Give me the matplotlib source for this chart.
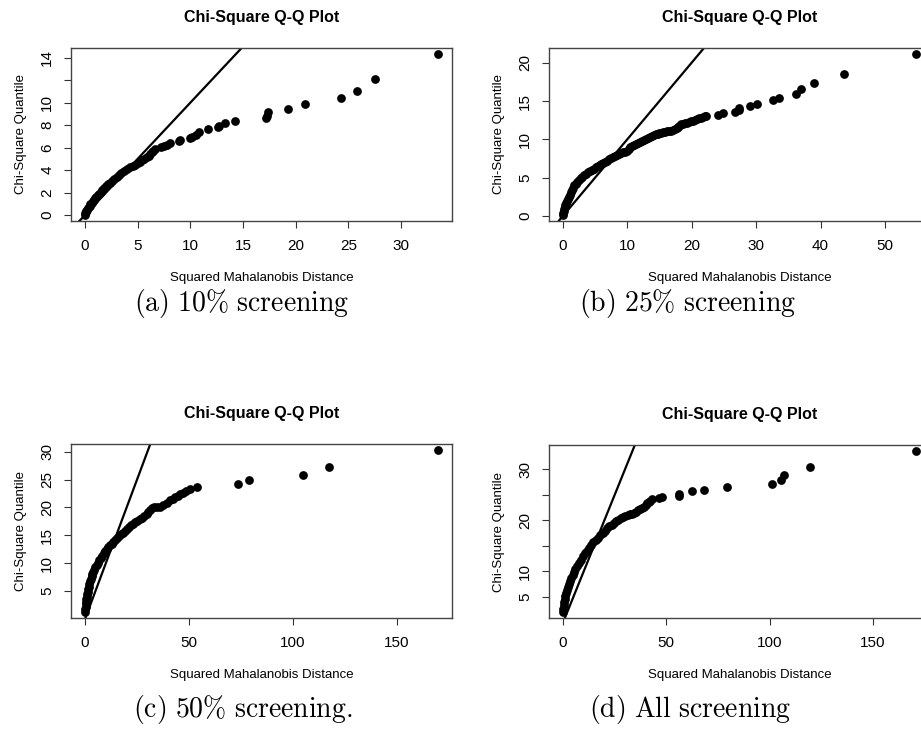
import matplotlib
matplotlib.use('Agg')
import matplotlib.pyplot as plt

plt.rcParams['font.family'] = ['Liberation Sans', 'DejaVu Sans']
plt.rcParams['mathtext.fontset'] = 'cm'

# (a) 10% screening: squared Mahalanobis distance vs chi-square quantile
a_dist = [0.02, 0.05, 0.09, 0.14, 0.2, 0.27, 0.35, 0.44, 0.53, 0.63, 0.74, 0.86,
          0.98, 1.1, 1.23, 1.37, 1.52, 1.67, 1.83, 2.0, 2.18, 2.37, 2.57, 2.78,
          3.0, 3.23, 3.47, 3.72, 3.98, 4.25, 4.52, 4.78, 5.02, 5.25, 5.45, 5.65,
          5.85, 6.05, 6.2, 6.35, 6.5, 6.65, 7.25, 7.5, 7.8, 8.1, 8.9, 9.0, 10.0,
          10.2, 10.5, 10.8, 11.7, 12.6, 12.7, 13.3, 14.2, 17.2, 17.25, 17.35,
          19.3, 20.9, 24.3, 25.8, 27.5, 33.5]
a_quant = [0.05, 0.15, 0.25, 0.35, 0.47, 0.6, 0.72, 0.85, 0.98, 1.1, 1.23, 1.36,
           1.5, 1.63, 1.77, 1.92, 2.08, 2.24, 2.4, 2.56, 2.73, 2.9, 3.07, 3.25,
           3.42, 3.6, 3.77, 3.94, 4.1, 4.25, 4.38, 4.5, 4.62, 4.75, 4.88, 5.0,
           5.14, 5.3, 5.45, 5.6, 5.74, 5.92, 6.02, 6.12, 6.27, 6.45, 6.6, 6.72,
           6.85, 6.98, 7.15, 7.4, 7.62, 7.85, 7.95, 8.17, 8.38, 8.62, 8.86, 9.15,
           9.48, 9.88, 10.4, 11.05, 12.08, 14.3]

# (b) 25% screening
b_dist = [0.05, 0.1, 0.15, 0.22, 0.3, 0.4, 0.5, 0.62, 0.75, 0.9, 1.05, 1.22,
          1.4, 1.6, 1.8, 2.0, 2.25, 2.5, 2.75, 3.0, 3.3, 3.6, 3.9, 4.2, 4.5,
          4.8, 5.1, 5.4, 5.7, 6.0, 6.3, 6.6, 6.9, 7.2, 7.5, 7.8, 8.1, 8.4, 8.7,
          9.0, 9.3, 9.6, 9.9, 10.2, 10.5, 10.8, 11.1, 11.4, 11.7, 12.0, 12.3,
          12.6, 12.9, 13.2, 13.5, 13.8, 14.1, 14.4, 14.7, 15.0, 15.3, 15.6,
          15.9, 16.2, 16.5, 16.8, 17.1, 17.4, 17.7, 17.9, 18.1, 18.4, 18.7,
          19.0, 19.3, 19.6, 19.9, 20.2, 20.5, 20.8, 21.1, 21.4, 21.7, 22.0,
          22.3, 24.1, 24.9, 26.8, 27.3, 27.4, 29.0, 30.1, 32.6, 33.6, 36.2,
          37.0, 39.05, 43.65, 54.8]
b_quant = [0.2, 0.45, 0.7, 0.95, 1.2, 1.45, 1.7, 1.95, 2.2, 2.5, 2.8, 3.1, 3.4,
           3.7, 4.0, 4.25, 4.5, 4.75, 4.95, 5.1, 5.3, 5.5, 5.7, 5.88, 6.05, 6.2,
           6.35, 6.5, 6.65, 6.8, 6.95, 7.1, 7.25, 7.4, 7.55, 7.7, 7.85, 7.98,
           8.1, 8.2, 8.3, 8.4, 8.52, 8.7, 8.95, 9.15, 9.3, 9.4, 9.5, 9.6, 9.75,
           9.9, 10.05, 10.2, 10.35, 10.45, 10.55, 10.65, 10.72, 10.8, 10.86,
           10.92, 10.98, 11.04, 11.1, 11.16, 11.24, 11.35, 11.5, 11.65, 11.8,
           11.95, 12.05, 12.12, 12.2, 12.28, 12.36, 12.45, 12.55, 12.65, 12.75,
           12.85, 12.93, 13.0, 13.06, 13.2, 13.45, 13.6, 13.8, 14.1, 14.4,
           14.66, 15.1, 15.44, 15.92, 16.53, 17.31, 18.52, 21.08]

# (c) 50% screening
c_dist = [0.0, 0.1, 0.2, 0.3, 0.45, 0.6, 0.8, 1.0, 1.2, 1.45, 1.7, 2.0, 2.3,
          2.7, 3.1, 3.5, 4.0, 4.5, 5.0, 5.6, 6.2, 6.8, 7.5, 8.2, 8.9, 9.6, 10.4,
          11.2, 12.0, 12.8, 13.6, 14.5, 15.4, 16.3, 17.2, 18.2, 19.2, 20.2,
          21.2, 22.2, 23.2, 24.2, 25.2, 26.2, 27.3, 28.5, 29.7, 30.5, 31.3,
          32.1, 33.3, 34.8, 36.1, 37.7, 39.3, 40.9, 42.1, 43.3, 44.5, 45.7,
          47.1, 48.6, 50.5, 53.9, 73.8, 79.1, 104.9, 117.4, 169.9]
c_quant = [1.3, 1.75, 2.2, 2.65, 3.1, 3.55, 4.0, 4.45, 4.9, 5.35, 5.8, 6.25,
           6.7, 7.15, 7.6, 8.0, 8.45, 8.85, 9.25, 9.7, 10.1, 10.5, 10.95, 11.35,
           11.75, 12.1, 12.5, 12.85, 13.2, 13.5, 13.85, 14.2, 14.5, 14.85, 15.15,
           15.5, 15.85, 16.2, 16.5, 16.8, 17.1, 17.4, 17.65, 17.9, 18.15, 18.45,
           18.8, 19.2, 19.55, 19.85, 20.0, 20.1, 20.17, 20.4, 20.8, 21.3, 21.55,
           21.8, 22.1, 22.4, 22.65, 22.9, 23.25, 23.6, 24.2, 24.9, 25.86, 27.3,
           30.24]

# (d) all screening
d_dist = [0.0, 0.15, 0.3, 0.5, 0.75, 1.05, 1.4, 1.8, 2.25, 2.75, 3.3, 3.9,
          4.55, 5.25, 6.0, 6.8, 7.65, 8.55, 9.5, 10.5, 11.5, 12.5, 13.6, 14.7,
          15.8, 16.9, 18.0, 19.1, 20.2, 21.3, 22.4, 23.5, 24.6, 25.7, 26.8,
          27.9, 29.0, 30.1, 31.2, 32.3, 33.4, 34.5, 35.5, 36.4, 37.3, 38.2,
          39.1, 40.0, 40.8, 41.6, 42.3, 43.0, 46.6, 48.0, 56.1, 56.1, 62.2,
          68.1, 79.4, 101.2, 105.7, 107.1, 119.7, 170.9]
d_quant = [2.1, 2.7, 3.3, 3.9, 4.5, 5.1, 5.7, 6.3, 6.9, 7.5, 8.1, 8.7, 9.3,
           9.9, 10.5, 11.1, 11.7, 12.3, 12.9, 13.5, 14.05, 14.6, 15.15, 15.7,
           16.2, 16.6, 17.05, 17.5, 17.95, 18.4, 18.8, 19.15, 19.5, 19.85, 20.1,
           20.35, 20.6, 20.85, 21.0, 21.15, 21.3, 21.45, 21.65, 21.95, 22.25,
           22.5, 22.7, 23.0, 23.3, 23.6, 23.85, 24.1, 24.4, 24.6, 24.85, 25.2,
           25.65, 26.0, 26.5, 27.2, 27.95, 28.9, 30.45, 33.5]

a_xticks = [0, 5, 10, 15, 20, 25, 30]
a_yticks = [0, 2, 4, 6, 8, 10, 12, 14]
a_ylabels = ['0', '2', '4', '6', '8', '10', '', '14']
b_xticks = [0, 10, 20, 30, 40, 50]
b_yticks = [0, 5, 10, 15, 20]
b_ylabels = ['0', '5', '10', '15', '20']
c_xticks = [0, 50, 100, 150]
c_yticks = [5, 10, 15, 20, 25, 30]
c_ylabels = ['5', '10', '15', '20', '25', '30']
d_xticks = [0, 50, 100, 150]
d_yticks = [5, 10, 15, 20, 25, 30]
d_ylabels = ['5', '10', '', '20', '', '30']

captions = [r'$\mathrm{(a)\ 10\%\ screening}$',
            r'$\mathrm{(b)\ 25\%\ screening}$',
            r'$\mathrm{(c)\ 50\%\ screening.}$',
            r'$\mathrm{(d)\ All\ screening}$']

W, H = 921, 747


def lims(values):
    lo, hi = min(values), max(values)
    pad = 0.04 * (hi - lo)
    return lo - pad, hi + pad


# One R-style base-graphics Q-Q panel.
def draw_panel(ax, dist, quant, xticks, yticks, ylabels, ax_w, ax_h):
    ax.plot(dist, quant, 'o', ms=6.3, mew=0, color='black', zorder=3)
    ax.axline((0, 0), slope=1, color='black', lw=1.6, zorder=2)
    ax.set_xlim(*lims(dist))
    ax.set_ylim(*lims(quant))
    ax.set_xticks(xticks)
    ax.set_yticks(yticks)
    ax.set_yticklabels(ylabels)
    ax.tick_params(direction='out', length=5, width=0.8, labelsize=11,
                   color='#333333')
    ax.tick_params(axis='x', pad=8)
    ax.tick_params(axis='y', pad=7, labelrotation=90)
    for label in ax.get_yticklabels():
        label.set_va('center')
    for spine in ax.spines.values():
        spine.set_color('#444444')
        spine.set_linewidth(1.0)
    ax.set_title('Chi-Square Q-Q Plot', fontsize=11.5, fontweight='bold',
                 pad=19)
    ax.set_xlabel('Squared Mahalanobis Distance', fontsize=9.5)
    ax.set_ylabel('Chi-Square Quantile', fontsize=9.5)
    ax.xaxis.set_label_coords(0.5, -51 / ax_h)
    ax.yaxis.set_label_coords(-44 / ax_w, 0.5)


fig = plt.figure(figsize=(W / 100, H / 100), dpi=100)

# axes boxes in pixels: left, top, right, bottom
boxes = [(71, 48, 452, 221), (549, 48, 930, 221),
         (71, 444, 452, 618), (549, 445, 930, 618)]
panels = [(a_dist, a_quant, a_xticks, a_yticks, a_ylabels),
          (b_dist, b_quant, b_xticks, b_yticks, b_ylabels),
          (c_dist, c_quant, c_xticks, c_yticks, c_ylabels),
          (d_dist, d_quant, d_xticks, d_yticks, d_ylabels)]
caption_pos = [(242, 304), (687, 304), (243, 709), (690, 709)]

for (l, t, r, b), (dist, quant, xt, yt, yl) in zip(boxes, panels):
    ax = fig.add_axes([l / W, (H - b) / H, (r - l) / W, (b - t) / H])
    draw_panel(ax, dist, quant, xt, yt, yl, r - l, b - t)

for (cx, cy), text in zip(caption_pos, captions):
    fig.text(cx / W, (H - cy) / H, text, fontsize=20, ha='center',
             va='center')

fig.savefig('out.png', dpi=100)
